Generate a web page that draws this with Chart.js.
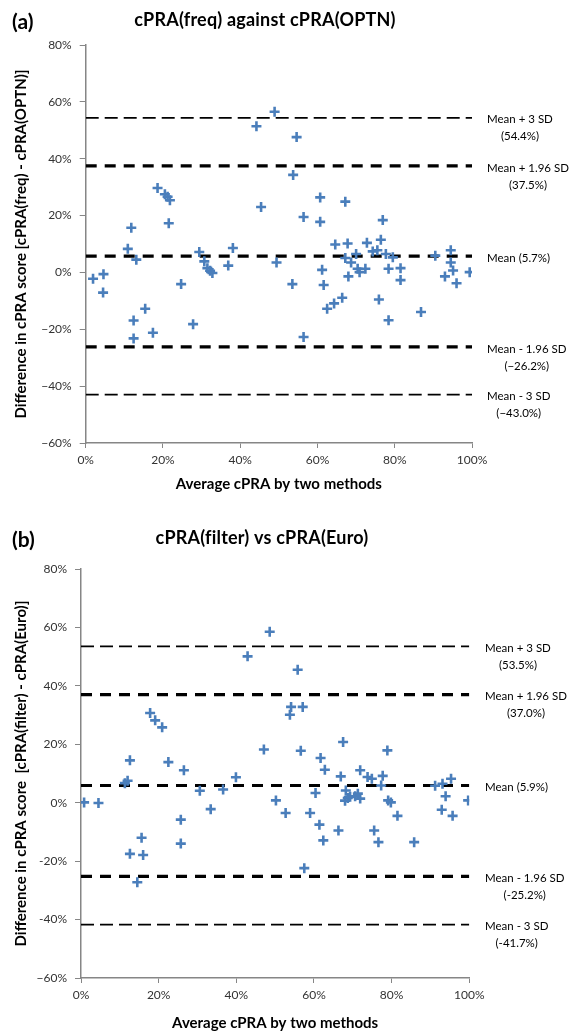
<!DOCTYPE html>
<html>
<head>
<meta charset="utf-8">
<script src="https://cdn.jsdelivr.net/npm/chart.js@4.4.1/dist/chart.umd.min.js"></script>
<style>
  body { margin: 0; background: #fff; }
  canvas { display: block; }
</style>
</head>
<body>
<canvas id="panelA" width="574" height="516"></canvas>
<canvas id="panelB" width="574" height="516"></canvas>
<script>
// Panel (a): cPRA(freq) against cPRA(OPTN)
const aAvg = [1.9, 4.6, 4.5, 10.9, 11.8, 13.1, 12.4, 12.4, 15.4, 17.4, 18.6, 20.5, 21.2, 21.8, 21.5,
  24.7, 27.8, 29.4, 30.7, 31.5, 32.2, 32.8, 36.9, 38.1, 44.2, 45.4, 48.9, 49.4, 53.5, 53.7, 54.6,
  56.4, 56.4, 60.7, 60.7, 61.2, 61.6, 62.5, 64.3, 64.6, 66.4, 67.2, 67.2, 67.8, 68.0, 68.7, 70.0,
  70.4, 70.9, 72.4, 72.8, 74.3, 75.5, 75.9, 76.4, 76.9, 77.7, 78.4, 78.4, 79.5, 81.5, 81.5, 86.8,
  90.5, 93.0, 94.5, 94.5, 95.1, 96.0, 99.4];
const aDiff = [-2.2, -0.6, -7.1, 8.3, 15.7, 4.5, -16.9, -23.2, -12.8, -21.2, 29.7, 27.5, 26.6, 25.4, 17.3,
  -4.1, -18.2, 7.2, 3.9, 1.5, 0.6, -0.2, 2.4, 8.6, 51.4, 23.0, 56.5, 3.5, -4.1, 34.3, 47.6,
  19.5, -22.7, 26.4, 17.8, 0.9, -4.4, -12.8, -10.9, 9.8, -8.9, 24.9, 5.1, 10.2, -1.4, 3.5, 6.5,
  1.3, 0.1, 1.3, 10.4, 7.4, 7.8, -9.5, 11.5, 18.4, 6.5, 1.3, -16.8, 5.3, 1.5, -2.7, -13.9,
  5.9, -1.4, 7.8, 3.5, 0.7, -3.8, 0.1];
const aLimits = [54.4, 37.5, 5.7, -26.2, -43.0];
const aLimitText = [['Mean + 3 SD', '(54.4%)'], ['Mean + 1.96 SD', '(37.5%)'], ['Mean (5.7%)'],
  ['Mean - 1.96 SD', '(\u221226.2%)'], ['Mean - 3 SD', '(\u221243.0%)']];

// Panel (b): cPRA(filter) vs cPRA(Euro)
const bAvg = [0.8, 4.5, 11.3, 12.0, 12.6, 12.6, 14.5, 15.6, 16.0, 17.8, 19.1, 20.9, 22.5, 25.7, 25.7,
  26.5, 30.6, 33.4, 36.6, 39.9, 42.9, 47.1, 48.6, 50.2, 52.7, 53.8, 54.1, 55.8, 56.6, 57.1, 57.5,
  59.0, 60.4, 61.4, 61.7, 62.4, 62.8, 66.3, 66.9, 67.5, 68.2, 68.0, 68.7, 69.3, 70.6, 71.3, 71.9,
  71.9, 73.8, 74.9, 75.5, 76.6, 77.3, 77.7, 78.9, 79.1, 79.8, 81.5, 85.8, 91.2, 93.1, 92.9, 93.9,
  95.3, 95.7, 99.7];
const bDiff = [0.1, -0.1, 6.7, 7.5, 14.5, -17.5, -27.2, -12.0, -17.9, 30.7, 28.2, 25.8, 13.9, -5.8, -14.0,
  11.1, 4.1, -2.2, 4.5, 8.7, 50.1, 18.2, 58.5, 0.8, -3.5, 30.1, 32.8, 45.5, 17.8, 32.8, -22.4,
  -3.5, 3.3, -7.5, 15.3, -12.9, 11.3, -9.5, 9.0, 20.8, 4.2, 0.7, 1.6, 2.0, 2.2, 3.1, 1.4,
  11.1, 8.8, 8.2, -9.5, -13.5, 5.9, 9.2, 17.9, 0.8, 0.1, -4.5, -13.5, 5.8, 6.5, -2.4, 2.2,
  8.2, -4.5, 0.8];
const bLimits = [53.5, 37.0, 5.9, -25.2, -41.7];
const bLimitText = [['Mean + 3 SD', '(53.5%)'], ['Mean + 1.96 SD', '(37.0%)'], ['Mean (5.9%)'],
  ['Mean - 1.96 SD', '(-25.2%)'], ['Mean - 3 SD', '(-41.7%)']];

const xTicks = [0, 20, 40, 60, 80, 100];
const yTicks = [-60, -40, -20, 0, 20, 40, 60, 80];

const FONT = 'Lato, "Open Sans", sans-serif';
const BLUE = '#4a7ebb';
const AXIS = '#868686';

// titles, panel letter and the limit labels on the right
const panelText = {
  id: 'panelText',
  afterDraw(chart, args, opts) {
    const ctx = chart.ctx;
    const y = chart.scales.y;
    ctx.save();
    ctx.fillStyle = '#000';
    ctx.textBaseline = 'middle';
    ctx.font = 'bold 21px ' + FONT;
    ctx.textAlign = 'left';
    ctx.fillText(opts.letter, 12, opts.titleY + 2);
    ctx.font = 'bold 18px ' + FONT;
    ctx.textAlign = 'center';
    ctx.letterSpacing = '0.2px'; // also keeps "fi" from turning into a ligature
    ctx.fillText(opts.title, opts.titleX, opts.titleY);
    ctx.letterSpacing = '0px';

    ctx.font = '11.5px ' + FONT;
    opts.limits.forEach((v, i) => {
      const lines = opts.text[i];
      const w = ctx.measureText(lines[0]).width;
      const cx = opts.labelX + w / 2;
      const py = y.getPixelForValue(v) + 2;
      lines.forEach((t, k) => ctx.fillText(t, cx, py + k * 17));
    });
    ctx.restore();
  }
};

function pct(minus) {
  return v => (v < 0 ? minus + Math.abs(v) : v) + '%';
}

function buildChart(id, avg, diff, limits, text, o) {
  const lineSets = limits.map((v, i) => {
    const thin = i === 0 || i === limits.length - 1;
    return {
      type: 'line',
      data: [{ x: 0, y: v }, { x: 100, y: v }],
      borderColor: '#000',
      borderWidth: thin ? 1.8 : 3.2,
      borderDash: thin ? [13, 6] : [11, 8],
      pointRadius: 0,
      fill: false
    };
  });
  return new Chart(document.getElementById(id), {
    type: 'scatter',
    data: {
      datasets: [{
        data: avg.map((x, i) => ({ x: x, y: diff[i] })),
        pointStyle: 'cross',
        pointRadius: 5,
        borderWidth: 2.6,
        borderColor: BLUE,
        backgroundColor: BLUE
      }].concat(lineSets)
    },
    options: {
      responsive: false,
      animation: false,
      events: [],
      layout: { padding: o.padding },
      plugins: {
        legend: { display: false },
        tooltip: { enabled: false },
        panelText: { letter: o.letter, title: o.title, titleX: o.titleX, titleY: o.titleY,
          limits: limits, text: text, labelX: o.labelX }
      },
      scales: {
        x: {
          type: 'linear', min: 0, max: 100,
          afterBuildTicks: s => { s.ticks = xTicks.map(v => ({ value: v })); },
          afterFit: s => { s.height = o.xHeight; },
          ticks: { callback: pct('-'), padding: 5, color: '#333', font: { family: FONT, size: 12 } },
          grid: { drawOnChartArea: false, tickLength: 5, color: AXIS, lineWidth: 1 },
          border: { color: AXIS, width: 1.5 },
          title: { display: true, text: 'Average cPRA by two methods', color: '#000',
            font: { family: FONT, size: 15, weight: 'bold' }, padding: { top: 0, bottom: 0 } }
        },
        y: {
          type: 'linear', min: -60, max: 80,
          afterBuildTicks: s => { s.ticks = yTicks.map(v => ({ value: v })); },
          afterFit: s => { s.width = o.yWidth; },
          ticks: { callback: o.yTickFmt, padding: 8, color: '#333', font: { family: FONT, size: 12 } },
          grid: { drawOnChartArea: false, tickLength: 6, color: AXIS, lineWidth: 1 },
          border: { color: AXIS, width: 1.5 },
          title: { display: true, text: o.yTitle, color: '#000',
            font: { family: FONT, size: 15, weight: 'bold' }, padding: { top: 0, bottom: 0 } }
        }
      }
    },
    plugins: [panelText]
  });
}

buildChart('panelA', aAvg, aDiff, aLimits, aLimitText, {
  letter: '(a)', title: 'cPRA(freq) against cPRA(OPTN)', titleX: 265, titleY: 20,
  yTitle: 'Difference in cPRA score [cPRA(freq) - cPRA(OPTN)]',
  yTickFmt: pct('\u2212'),
  padding: { left: 12, top: 45, right: 102, bottom: 23 },
  xHeight: 50, yWidth: 73.7, labelX: 487
});

buildChart('panelB', bAvg, bDiff, bLimits, bLimitText, {
  letter: '(b)', title: 'cPRA(filter) vs cPRA(Euro)', titleX: 262, titleY: 22,
  yTitle: 'Difference in cPRA score  [cPRA(filter) - cPRA(Euro)]',
  yTickFmt: v => (v === -60 ? '\u221260' : v) + '%',
  padding: { left: 12, top: 53, right: 104.7, bottom: 0 },
  xHeight: 54, yWidth: 69, labelX: 485
});
</script>
</body>
</html>
